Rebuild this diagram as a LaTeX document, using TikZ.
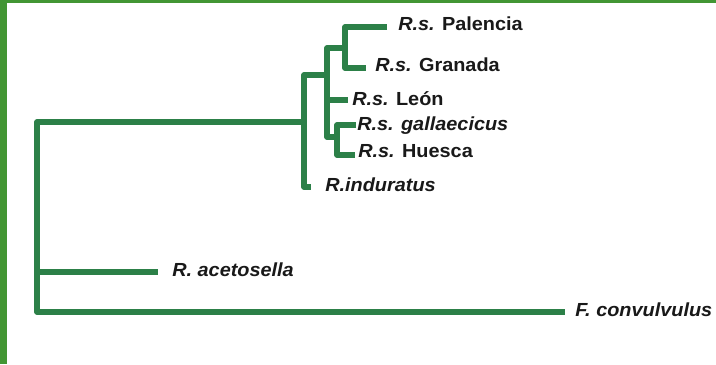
\documentclass[tikz,border=0pt]{standalone}
\usepackage{fontspec}
\setmainfont{Liberation Sans}[FakeStretch=1.05]
\definecolor{branch}{RGB}{44,128,72}
\definecolor{frame}{RGB}{66,150,52}
\definecolor{txt}{RGB}{25,25,25}
\tikzset{
  br/.style={draw=branch, line width=3.8pt, line join=round},
  lab/.style={anchor=west, inner sep=0pt, text=txt, font=\fontsize{14.2}{16}\selectfont\bfseries, text height=0.72em, text depth=0pt}
}
\begin{document}
\begin{tikzpicture}[x=0.75pt,y=-0.75pt]
\useasboundingbox (0,0) rectangle (716,364);
\fill[white] (0,0) rectangle (716,364);
\fill[frame] (0,0) rectangle (7,364);
\fill[frame] (0,0) rectangle (716,2.5);
% internal nodes
\coordinate (r) at (37,217);
\coordinate (A) at (304,122);
\coordinate (B) at (327,75);
\coordinate (C) at (345,48);
\coordinate (D) at (337,137);
% tips
\coordinate (tPal) at (387,27);
\coordinate (tGra) at (366,68);
\coordinate (tLeon) at (348,100);
\coordinate (tGal) at (356,125);
\coordinate (tHue) at (355,155);
\coordinate (tInd) at (311,187);
\coordinate (tAce) at (158,272);
\coordinate (tCon) at (565,312);
% labels
\node[lab] (Pal) at (398,26) {\textit{R.s.} Palencia};
\node[lab] (Gra) at (375,67) {\textit{R.s.} Granada};
\node[lab] (Leon) at (352,101) {\textit{R.s.} León};
\node[lab] (Gal) at (357,126) {\textit{R.s. gallaecicus}};
\node[lab] (Hue) at (358,153) {\textit{R.s.} Huesca};
\node[lab] (Ind) at (325,187) {\textit{R.induratus}};
\node[lab] (Ace) at (172,272) {\textit{R. acetosella}};
\node[lab] (Con) at (575,312) {\textit{F. convulvulus}};
% branches
\draw[br] (A) -| (37,312) -- (tCon);
\draw[br] (r) |- (tAce);
\draw[br] (B) -| (304,187) -- (tInd);
\draw[br] (C) -| (327,137) -- (D);
\draw[br] (B) |- (tLeon);
\draw[br] (tPal) -| (345,68) -- (tGra);
\draw[br] (tGal) -| (337,155) -- (tHue);
\end{tikzpicture}
\end{document}
